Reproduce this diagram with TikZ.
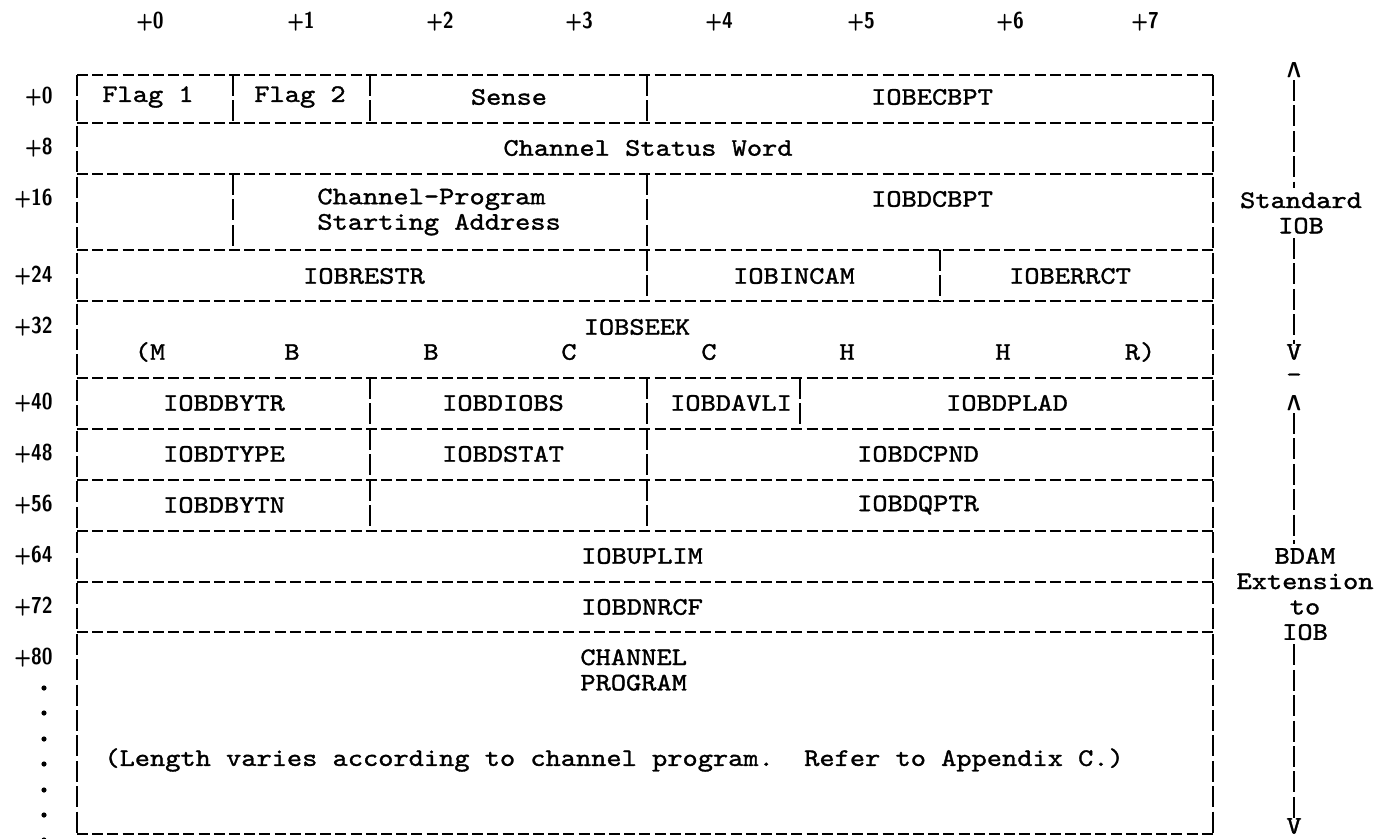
\documentclass[tikz,border=0pt]{standalone}
\usepackage{fontspec}
\newfontfamily\iobtt{lmmono10-regular.otf}[FakeStretch=1.15,FakeBold=1.3]
\newfontfamily\iobsf{lmsans10-bold.otf}[FakeStretch=0.85]

\begin{document}
\begin{tikzpicture}[x=0.5pt, y=-0.5pt,
    hline/.style={line width=1.1pt, dash pattern=on 5.5pt off 2.1pt},
    vline/.style={line width=1.1pt, dash pattern=on 10.5pt off 2.2pt},
    field/.style={font=\iobtt\fontsize{12.6}{12.7}\selectfont, inner sep=0pt},
    offs/.style={font=\iobsf\fontsize{11.5}{13}\selectfont, inner sep=0pt},
    tip/.style={font=\iobsf\fontsize{11}{13}\selectfont, inner sep=1pt}
  ]
  \useasboundingbox (0,0) rectangle (1380,839);

  % byte offsets across the top
  \foreach \b/\x in {0/150,1/301,2/440,3/579,4/719,5/861,6/1010,7/1145}
    \node[offs] (col\b) at (\x,22) {+\b};
  % word offsets down the side
  \foreach \o/\y in {0/97,8/148,16/199,24/276,32/327,40/403,48/454,56/505,64/556,72/607,80/658}
    \node[offs, anchor=east] (row\o) at (53,\y) {+\o};
  \foreach \y in {688,713,739,764,790,815,840}
    \fill (44,\y) circle (1.3pt);

  % frame and row rules
  \foreach \y in {75,123,174,250,301,378,429,480,531,582,632,834}
    \draw[hline] (77,\y) -- (1213,\y);
  \draw[vline] (77,75) -- (77,834);
  \draw[vline] (1213,75) -- (1213,834);
  \foreach \x/\ya/\yb in {233/75/123, 370/75/123, 647/75/123,
      233/174/250, 647/174/250, 647/250/301, 940/250/301,
      370/378/531, 647/378/531, 800/378/429}
    \draw[vline] (\x,\ya) -- (\x,\yb);

  % fields
  \node[field] (flag1) at (148,97) {Flag 1};
  \node[field] (flag2) at (300,97) {Flag 2};
  \node[field] (sense) at (509,97) {Sense};
  \node[field] (ecbpt) at (932,97) {IOBECBPT};
  \node[field] (csw) at (648,148) {Channel Status Word};
  \node[field, anchor=west, align=left] (cpsa) at (317,212) {Channel-Program\\Starting Address};
  \node[field] (dcbpt) at (932,199) {IOBDCBPT};
  \node[field] (restr) at (364,276) {IOBRESTR};
  \node[field] (incam) at (794,276) {IOBINCAM};
  \node[field] (errct) at (1070,276) {IOBERRCT};
  \node[field] (seek) at (637,327) {IOBSEEK};
  \foreach \c/\x [count=\i] in {{(M}/150,B/292,B/431,C/569,C/709,H/847,H/1003,{R)}/1140}
    \node[field] (mbbcchhr\i) at (\x,352) {\c};
  \node[field] (dbytr) at (224,403) {IOBDBYTR};
  \node[field] (diobs) at (503,403) {IOBDIOBS};
  \node[field] (davli) at (731,403) {IOBDAVLI};
  \node[field] (dplad) at (1007,403) {IOBDPLAD};
  \node[field] (dtype) at (224,454) {IOBDTYPE};
  \node[field] (dstat) at (503,454) {IOBDSTAT};
  \node[field] (dcpnd) at (918,454) {IOBDCPND};
  \node[field] (dbytn) at (224,505) {IOBDBYTN};
  \node[field] (dqptr) at (918,505) {IOBDQPTR};
  \node[field] (uplim) at (642,556) {IOBUPLIM};
  \node[field] (dnrcf) at (642,607) {IOBDNRCF};
  \node[field, anchor=west, align=left] (chprog) at (580,670) {CHANNEL\\PROGRAM};
  \node[field, anchor=west] (lennote) at (104,760) {(Length varies according to channel program.\ \ Refer to Appendix C.)};

  % extent marks on the right
  \node[field, align=center, inner sep=2pt] (stdiob) at (1301,213) {Standard\\IOB};
  \node[tip] (stdup) at (1294,70) {\rotatebox[origin=c]{180}{V}};
  \node[field] (stddn) at (1294,352) {V};
  \node[field] (split) at (1294,378) {-};
  \node[tip] (bdamup) at (1294,403) {\rotatebox[origin=c]{180}{V}};
  \node[field, align=center, inner sep=2pt] (bdamext) at (1305,594) {BDAM\\Extension\\to\\IOB};
  \node[field] (bdamdn) at (1294,826) {V};
  \draw[vline] (stdup.south) -- (stdup.south |- stdiob.north);
  \draw[vline] (stddn.north |- stdiob.south) -- (stddn.north);
  \draw[vline] (bdamup.south) -- (bdamup.south |- bdamext.north);
  \draw[vline] (bdamdn.north |- bdamext.south) -- (bdamdn.north);
\end{tikzpicture}
\end{document}
